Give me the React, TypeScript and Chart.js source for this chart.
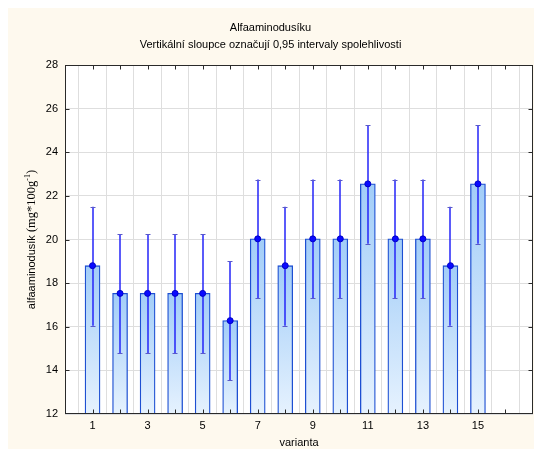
import React, { useEffect, useRef } from "react";
import { Chart, registerables } from "chart.js";

Chart.register(...registerables);

// ---- data ----
const variants = [1, 2, 3, 4, 5, 6, 7, 8, 9, 10, 11, 12, 13, 14, 15];
const means = [18.8, 17.53, 17.53, 17.53, 17.53, 16.28, 20.03, 18.8, 20.03, 20.03, 22.55, 20.03, 20.03, 18.8, 22.55];
const ciLow = [16.05, 14.78, 14.78, 14.78, 14.78, 13.55, 17.3, 16.05, 17.3, 17.3, 19.8, 17.3, 17.3, 16.05, 19.8];
const ciHigh = [21.5, 20.25, 20.25, 20.25, 20.25, 19.0, 22.75, 21.5, 22.75, 22.75, 25.25, 22.75, 22.75, 21.5, 25.25];
const xLabelled = [1, 3, 5, 7, 9, 11, 13, 15];
const xMin = 0;
const xMax = 17;
const yMin = 12;
const yMax = 28;
const yStep = 2;

const titleText = "Alfaaminodusíku";
const subtitleText = "Vertikální sloupce označují 0,95 intervaly spolehlivosti";
const xAxisTitle = "varianta";
const yTitleMain = "alfaaminodusík ";
const yTitleUnit = "(mg*100g";
const yTitleSup = "-1";
const yTitleEnd = ")";

const SANS = "'Liberation Sans', Arial, sans-serif";
const SERIF = "'Liberation Serif', 'Times New Roman', serif";

const plotBg = {
  id: "plotBg",
  beforeDraw(chart: any) {
    const { ctx, chartArea: a } = chart;
    ctx.save();
    ctx.fillStyle = "#ffffff";
    ctx.fillRect(a.left, a.top, a.right - a.left, a.bottom - a.top);
    ctx.restore();
  },
};

const errorBars = {
  id: "errorBars",
  afterDatasetDraw(chart: any, args: any) {
    if (args.index !== 1) return;
    const { ctx } = chart;
    const xs = chart.scales.x;
    const ys = chart.scales.y;
    ctx.save();
    variants.forEach((v, i) => {
      const px = Math.round(xs.getPixelForValue(v));
      const hi = ys.getPixelForValue(ciHigh[i]);
      const lo = ys.getPixelForValue(ciLow[i]);
      ctx.strokeStyle = "#2424f8";
      ctx.lineWidth = 1.5;
      ctx.beginPath();
      ctx.moveTo(px, hi);
      ctx.lineTo(px, lo);
      ctx.stroke();
      ctx.strokeStyle = "#5a5ac8";
      ctx.lineWidth = 1;
      ctx.beginPath();
      ctx.moveTo(px - 2.5, Math.round(hi) + 0.5);
      ctx.lineTo(px + 2.5, Math.round(hi) + 0.5);
      ctx.moveTo(px - 2.5, Math.round(lo) + 0.5);
      ctx.lineTo(px + 2.5, Math.round(lo) + 0.5);
      ctx.stroke();
    });
    ctx.restore();
  },
};

const frame = {
  id: "frame",
  afterDraw(chart: any) {
    const { ctx, chartArea: a } = chart;
    const xs = chart.scales.x;
    const ys = chart.scales.y;
    const L = Math.round(a.left) + 0.5;
    const R = Math.round(a.right) - 0.5;
    const T = Math.round(a.top) + 0.5;
    const B = Math.round(a.bottom) - 0.5;
    ctx.save();
    ctx.strokeStyle = "#2a2a2a";
    ctx.lineWidth = 1;
    ctx.beginPath();
    xs.ticks.forEach((t: any) => {
      if (t.value <= xMin || t.value >= xMax) return;
      const px = Math.round(xs.getPixelForValue(t.value)) + 0.5;
      ctx.moveTo(px, B);
      ctx.lineTo(px, B - 4);
      ctx.moveTo(px, T);
      ctx.lineTo(px, T + 4);
    });
    ys.ticks.forEach((t: any) => {
      if (t.value <= yMin || t.value >= yMax) return;
      const py = Math.round(ys.getPixelForValue(t.value)) + 0.5;
      ctx.moveTo(L, py);
      ctx.lineTo(L + 4, py);
      ctx.moveTo(R, py);
      ctx.lineTo(R - 4, py);
    });
    ctx.stroke();
    ctx.strokeRect(L, T, R - L, B - T);
    ctx.restore();

    // y axis title with mixed fonts
    ctx.save();
    const cy = (a.top + a.bottom) / 2;
    ctx.translate(27, cy);
    ctx.rotate(-Math.PI / 2);
    ctx.fillStyle = "#000";
    ctx.textBaseline = "alphabetic";
    ctx.textAlign = "left";
    const f1 = `11px ${SANS}`;
    const f2 = `12.5px ${SERIF}`;
    const f3 = `8px ${SERIF}`;
    ctx.font = f1;
    const w1 = ctx.measureText(yTitleMain).width;
    ctx.font = f2;
    const w2 = ctx.measureText(yTitleUnit).width;
    const w4 = ctx.measureText(yTitleEnd).width;
    ctx.font = f3;
    const w3 = ctx.measureText(yTitleSup).width;
    let x = -(w1 + w2 + w3 + w4) / 2;
    ctx.font = f1;
    ctx.fillText(yTitleMain, x, 0);
    x += w1;
    ctx.font = f2;
    ctx.fillText(yTitleUnit, x, 0);
    x += w2;
    ctx.font = f3;
    ctx.fillText(yTitleSup, x, -5.5);
    x += w3;
    ctx.font = f2;
    ctx.fillText(yTitleEnd, x, 0);
    ctx.restore();
  },
};

export default function App() {
  const ref = useRef<HTMLCanvasElement | null>(null);

  useEffect(() => {
    if (!ref.current) return;
    const chart = new Chart(ref.current, {
      type: "bar",
      data: {
        datasets: [
          {
            type: "line",
            data: variants.map((v, i) => ({ x: v, y: means[i] })),
            showLine: false,
            pointRadius: 3,
            pointBackgroundColor: "#0a0aff",
            pointBorderColor: "#0000c8",
            pointBorderWidth: 1,
          } as any,
          {
            type: "bar",
            data: variants.map((v, i) => ({ x: v, y: [yMin, means[i]] })),
            barThickness: 15,
            borderSkipped: false,
            borderWidth: 1.3,
            borderColor: "#1d4fd2",
            backgroundColor: (c: any) => {
              const chart = c.chart;
              const area = chart.chartArea;
              const ys = chart.scales.y;
              if (!area || !ys || c.dataIndex == null) return "#c4e0fb";
              const top = ys.getPixelForValue(means[c.dataIndex]);
              const g = chart.ctx.createLinearGradient(0, top, 0, area.bottom);
              g.addColorStop(0, "#a2cdf8");
              g.addColorStop(1, "#e6f2fe");
              return g;
            },
          } as any,
        ],
      },
      options: {
        animation: false,
        responsive: true,
        maintainAspectRatio: false,
        layout: { autoPadding: false, padding: { left: 0, right: 1, top: 0, bottom: 0 } },
        plugins: {
          legend: { display: false },
          tooltip: { enabled: false },
          title: {
            display: true,
            text: [titleText, subtitleText],
            color: "#000",
            font: { family: SANS, size: 11, weight: "normal", lineHeight: 1.573 },
            padding: { top: 11.4, bottom: 11 },
          },
        },
        scales: {
          x: {
            type: "linear",
            min: xMin,
            max: xMax,
            offset: false,
            afterFit: (s: any) => {
              s.height = 35;
            },
            ticks: {
              stepSize: 1,
              autoSkip: false,
              maxRotation: 0,
              padding: 0,
              color: "#000",
              font: { family: SANS, size: 11 },
              callback: (v: any) => (xLabelled.includes(Number(v)) ? String(v) : ""),
            },
            grid: {
              color: "#dedede",
              lineWidth: 1,
              drawTicks: true,
              tickLength: 5,
              tickColor: "rgba(0,0,0,0)",
            },
            border: { display: false },
            title: {
              display: true,
              text: xAxisTitle,
              color: "#000",
              font: { family: SANS, size: 11, lineHeight: 1 },
              padding: { top: 0, bottom: 1 },
            },
          },
          y: {
            type: "linear",
            min: yMin,
            max: yMax,
            afterFit: (s: any) => {
              s.width = 57;
            },
            ticks: {
              stepSize: yStep,
              padding: 7,
              color: "#000",
              font: { family: SANS, size: 11 },
            },
            grid: { color: "#dedede", lineWidth: 1, drawTicks: false },
            border: { display: false },
          },
        },
      },
      plugins: [plotBg, errorBars, frame],
    });
    return () => chart.destroy();
  }, []);

  return (
    <div
      style={{
        width: 526,
        height: 441,
        background: "#fef9ee",
        position: "relative",
      }}
    >
      <canvas ref={ref} style={{ display: "block" }} />
    </div>
  );
}
